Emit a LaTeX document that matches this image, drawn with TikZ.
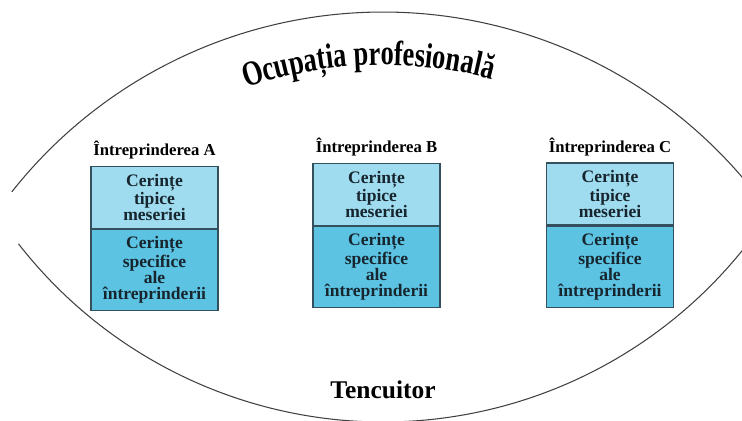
\documentclass[tikz,border=0pt]{standalone}
\usepackage{fontspec}
\setmainfont{Liberation Serif}
\newfontfamily\titleface[FakeStretch=0.75]{Liberation Serif}
\usetikzlibrary{positioning,decorations.text}
\definecolor{typical}{HTML}{9FDCEF}
\definecolor{specific}{HTML}{5CC3E3}
\definecolor{boxline}{HTML}{34505C}
\definecolor{boxtext}{HTML}{17262E}
\newcommand{\titlefont}{\titleface\bfseries\fontsize{20}{24}\selectfont}
\tikzset{
	firm/.style={font=\bfseries\fontsize{9.5}{11}\selectfont, inner sep=0pt, anchor=base},
	typicalbox/.style={draw=boxline, line width=0.7pt, fill=typical, minimum width=2.54cm, minimum height=1.24cm, text width=2.4cm, align=center, inner sep=0pt, text=boxtext, font=\bfseries\fontsize{10}{9.2}\selectfont},
	specificbox/.style={typicalbox, fill=specific, minimum height=1.62cm},
}
\begin{document}
\begin{tikzpicture}[x=0.02cm, y=-0.02cm]
	\useasboundingbox (0,0) rectangle (742,420);
	% outline of the lens
	\draw[line width=0.6pt, black!75] (383,485) ++(-141.7:473) arc[start angle=-141.7, end angle=-37, radius=473];
	\draw[line width=0.6pt, black!75] (383,-40) ++(142.1:462) arc[start angle=142.1, end angle=36, radius=462];
	\path[decorate, decoration={text along path, text align=center, text={|\titlefont|Ocupația profesională}}] (383,485) ++(-124:420) arc[start angle=-124, end angle=-60, radius=420];
	\node[font=\bfseries\fontsize{14.5}{16}\selectfont, anchor=base] (job) at (383,398) {Tencuitor};
	\node[typicalbox] (typA) at (154.5,197.5) {Cerințe\\tipice\\meseriei};
	\node[specificbox, below=0pt of typA] (specA) {Cerințe\\specifice\\ale\\întreprinderii};
	\node[firm] (firmA) at (154.5,155) {Întreprinderea A};
	\node[typicalbox] (typB) at (376.5,194.5) {Cerințe\\tipice\\meseriei};
	\node[specificbox, below=0pt of typB] (specB) {Cerințe\\specifice\\ale\\întreprinderii};
	\node[firm] (firmB) at (376.5,152) {Întreprinderea B};
	\node[typicalbox] (typC) at (610,194) {Cerințe\\tipice\\meseriei};
	\node[specificbox, below=0pt of typC] (specC) {Cerințe\\specifice\\ale\\întreprinderii};
	\node[firm] (firmC) at (610,152) {Întreprinderea C};
\end{tikzpicture}
\end{document}
